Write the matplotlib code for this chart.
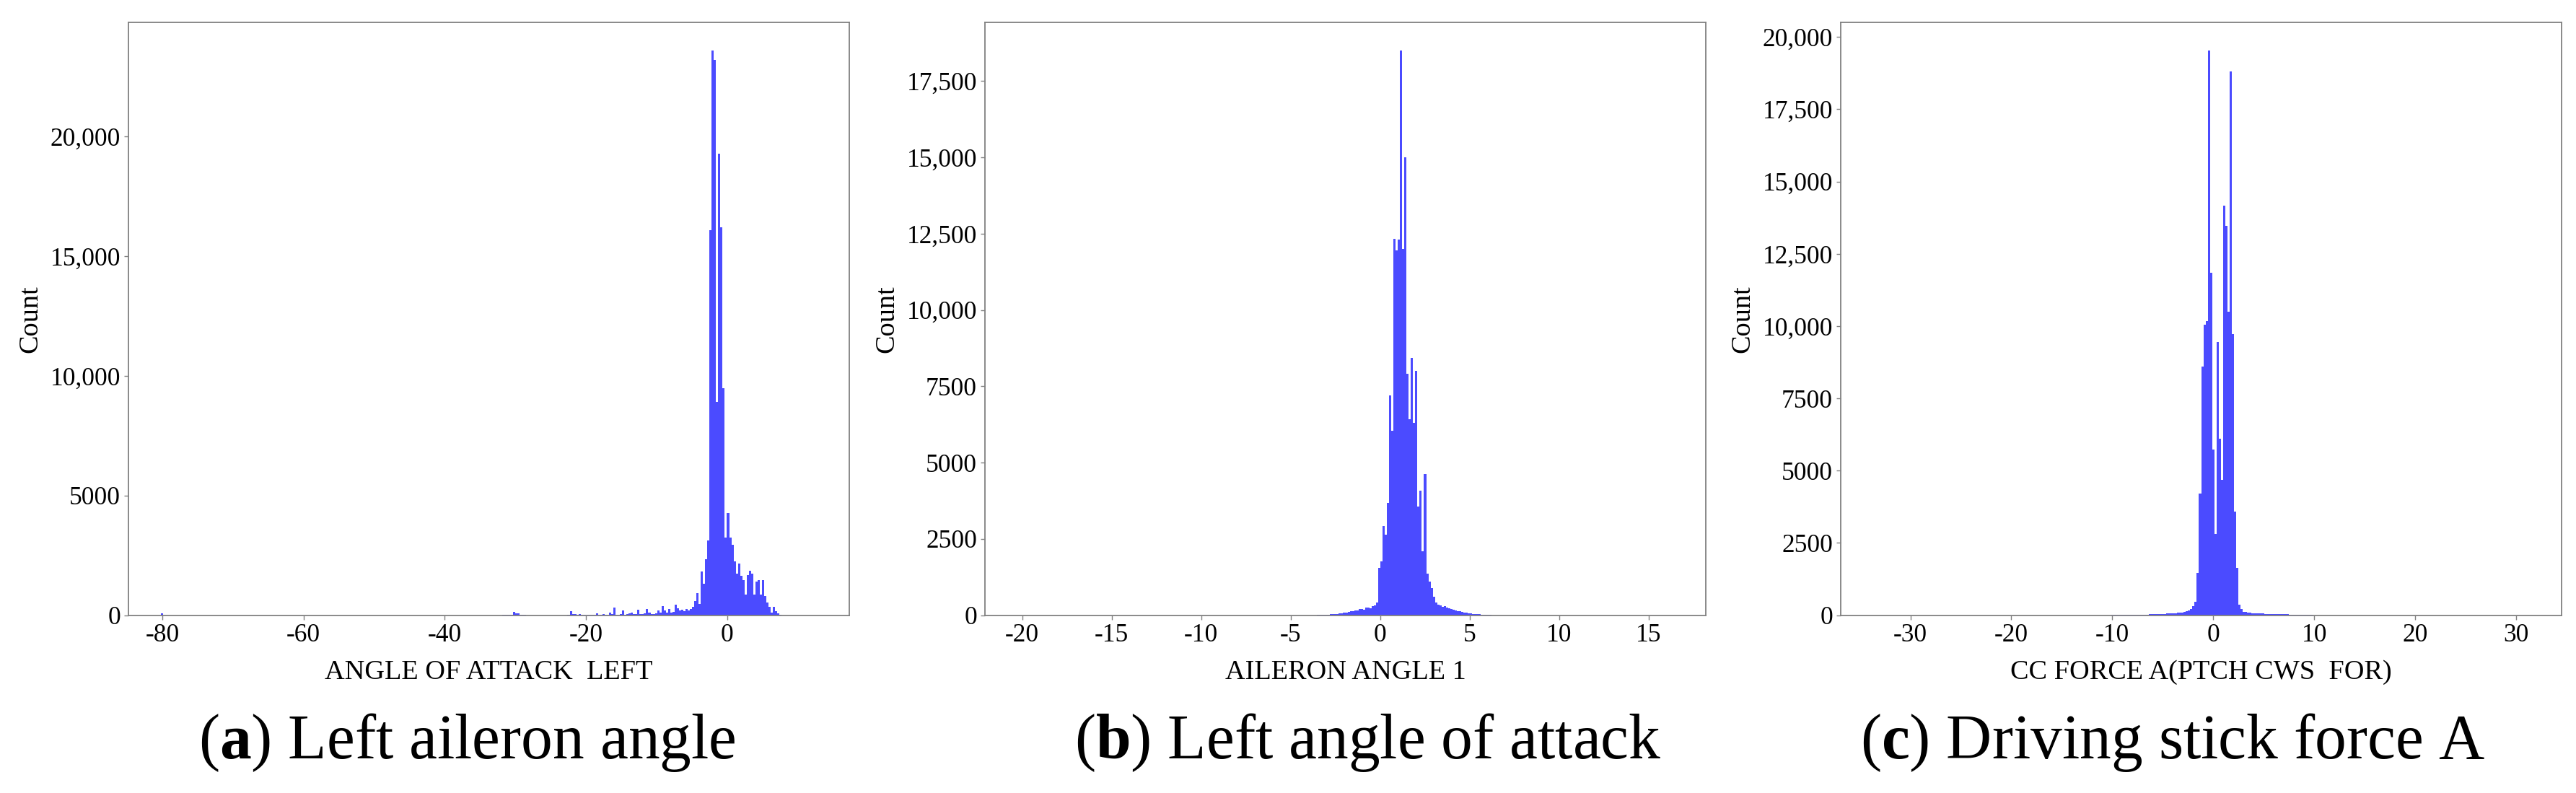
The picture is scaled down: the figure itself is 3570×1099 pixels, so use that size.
import numpy as np
import matplotlib
matplotlib.use("Agg")
import matplotlib.pyplot as plt
from matplotlib.ticker import FuncFormatter

plt.rcParams['font.family'] = ['Liberation Serif', 'DejaVu Serif']
plt.rcParams['axes.unicode_minus'] = False
plt.rcParams['mathtext.fontset'] = 'custom'
plt.rcParams['mathtext.rm'] = 'Liberation Serif'
plt.rcParams['mathtext.bf'] = 'Liberation Serif:bold'

# ---------------- data ----------------
# Panel (a): ANGLE OF ATTACK LEFT
a_range = (-80.16, 12.66)
a_nbins = 300
a_first_bin = 150
a_counts = [0, 0, 0, 0, 0, 0,
            15, 20, 10, 15, 25,
            130, 90, 70, 20, 30, 10,
            0, 0, 0, 0, 0, 0, 0, 0, 0, 0, 0, 0, 0, 0, 0, 0, 0, 0, 0,
            20, 180, 40, 60, 30, 50, 20, 15, 30, 25, 10, 20, 15, 70,
            20, 15, 40, 30, 20, 120, 40, 310, 30, 25,
            60, 200, 30, 40, 80, 120, 40, 60, 230, 50,
            40, 90, 260, 100, 60, 60, 90, 200, 120, 380,
            200, 120, 260, 100, 150, 430, 280, 200, 230, 180,
            250, 200, 260, 350, 580, 920, 480, 1840, 1300, 2340,
            3120, 16100, 23600, 23200, 8900, 19300, 16200, 9500, 3240, 4280,
            3240, 2950, 2260, 1740, 2170, 1650, 1470, 870, 1680, 1860,
            1740, 870, 1390, 1470, 870, 1470, 790, 520, 350, 120,
            350, 180, 90, 30]
a_extra_bins = [0]
a_extra_counts = [90]
a_xticks = [-80, -60, -40, -20, 0]
a_yticks = [0, 5000, 10000, 15000, 20000]
a_xlabel = "ANGLE OF ATTACK  LEFT"
a_caption = ("a", "Left aileron angle")

# Panel (b): AILERON ANGLE 1
b_range = (-20.25, 16.36)
b_nbins = 300
b_first_bin = 137
b_counts = [5, 8, 10, 12, 15, 20, 25, 30, 40, 45, 60, 70, 90, 80, 110, 130, 120,
            160, 150, 190, 210, 180, 240, 260, 230, 290, 330, 420,
            1560, 1770, 2920, 2630, 3670, 7200, 6050, 12320, 11950, 12300,
            18500, 12000, 15000, 7900, 6410, 8420, 6300, 8000, 3550, 4070, 2100, 4620,
            1360, 1090, 880, 600, 410,
            350, 320, 280, 300, 240, 220, 200, 170, 160, 130, 120, 100, 90, 75, 60,
            55, 45, 35, 30, 25, 20, 15, 10, 8, 5]
b_xticks = [-20, -15, -10, -5, 0, 5, 10, 15]
b_yticks = [0, 2500, 5000, 7500, 10000, 12500, 15000, 17500]
b_xlabel = "AILERON ANGLE 1"
b_caption = ("b", "Left angle of attack")

# Panel (c): CC FORCE A(PTCH CWS FOR)
c_range = (-33.65, 31.25)
c_nbins = 300
c_first_bin = 109
c_counts = [5, 5, 6, 8, 8, 10, 10, 12, 12, 14, 15, 16, 18, 18, 20, 22, 24, 25, 28, 30,
            32, 35, 38, 40, 45, 50, 55, 60, 65, 70, 75, 85, 90, 110, 130, 150, 200, 300, 460,
            1450, 4200, 8600, 10040, 10170, 19530, 11850, 5720, 2800, 9460,
            6100, 4680, 14170, 13470, 10500, 18820, 9720, 3570, 1640, 350,
            200, 120, 100, 90, 80, 70, 65, 60, 55, 50, 50, 45, 45, 40, 40, 35, 35,
            30, 30, 30, 25, 25, 20, 20, 20, 15, 15, 12, 10, 10, 8, 5, 3]
c_xticks = [-30, -20, -10, 0, 10, 20, 30]
c_yticks = [0, 2500, 5000, 7500, 10000, 12500, 15000, 17500, 20000]
c_xlabel = "CC FORCE A(PTCH CWS  FOR)"
c_caption = ("c", "Driving stick force A")

# ---------------- figure ----------------
W, H = 3570, 1099
fig = plt.figure(figsize=(W / 100, H / 100), dpi=100)

bar_color = '#4b4bff'
spine_color = '#808080'

panels = [
    dict(rng=a_range, n=a_nbins, first=a_first_bin, counts=a_counts,
         extra=(a_extra_bins, a_extra_counts), xt=a_xticks, yt=a_yticks,
         xl=a_xlabel, cap=a_caption, left=178, xlim=(-84.8, 17.3), capx=647),
    dict(rng=b_range, n=b_nbins, first=b_first_bin, counts=b_counts,
         extra=([], []), xt=b_xticks, yt=b_yticks,
         xl=b_xlabel, cap=b_caption, left=1365, xlim=(-22.08, 18.19), capx=1896),
    dict(rng=c_range, n=c_nbins, first=c_first_bin, counts=c_counts,
         extra=([], []), xt=c_xticks, yt=c_yticks,
         xl=c_xlabel, cap=c_caption, left=2551, xlim=(-36.9, 34.5), capx=3011),
]

ax_top, ax_bot, ax_w = 31, 852.5, 999


def fmt(v, pos):
    v = int(round(v))
    return f"{v:,}" if abs(v) >= 10000 else str(v)


for p in panels:
    ax = fig.add_axes([p['left'] / W, 1 - ax_bot / H, ax_w / W, (ax_bot - ax_top) / H])
    edges = np.linspace(p['rng'][0], p['rng'][1], p['n'] + 1)
    counts = np.zeros(p['n'])
    counts[p['first']:p['first'] + len(p['counts'])] = p['counts']
    for b, c in zip(*p['extra']):
        counts[b] = c
    ax.stairs(counts, edges, fill=True, color=bar_color, linewidth=0)
    ax.set_xlim(*p['xlim'])
    ax.set_ylim(0, counts.max() * 1.05)
    ax.set_xticks(p['xt'])
    ax.set_yticks(p['yt'])
    ax.yaxis.set_major_formatter(FuncFormatter(fmt))
    for s in ax.spines.values():
        s.set_color(spine_color)
        s.set_linewidth(1.3)
    ax.tick_params(axis='both', length=4, width=1, color=spine_color,
                   labelcolor='black', labelsize=25.5, pad=4)
    ax.set_xlabel(p['xl'], fontsize=27.5, labelpad=13)
    ax.set_ylabel("Count", fontsize=27.5, labelpad=7)
    letter, rest = p['cap']
    fig.text(p['capx'] / W, 1 - 1051 / H, "(" + r"$\mathbf{" + letter + "}$" + ") " + rest,
             ha='center', va='baseline', fontsize=63)

fig.savefig("out.png", dpi=100, facecolor='white')
